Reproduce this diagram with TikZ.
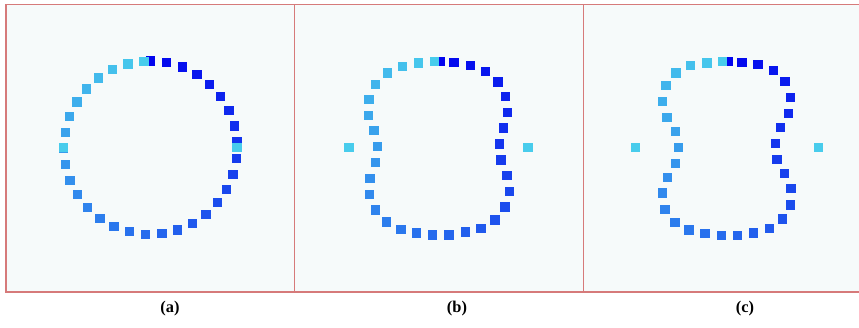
\documentclass[tikz,border=0pt]{standalone}
\usepackage{fontspec}
\setmainfont{Liberation Serif}
\usepackage{tikz}
\usetikzlibrary{positioning}
\definecolor{frameline}{RGB}{214,122,122}
\definecolor{panelbg}{RGB}{246,250,250}
\definecolor{ptstart}{RGB}{2,4,238}
\definecolor{ptend}{RGB}{72,204,236}

\begin{document}
\begin{tikzpicture}[x=0.3mm,y=-0.3mm,
    pt/.style={rectangle,inner sep=0pt,minimum size=2.8mm,draw=none},
    panel/.style={draw=frameline,line width=0.35mm,fill=panelbg},
    sublabel/.style={font=\fontsize{14}{16}\selectfont\bfseries}]
  \clip (0,0) rectangle (859,327);
  \fill[white] (0,0) rectangle (859,327);
  \draw[panel] (6,4.5) rectangle (294.7,292);
  \draw[panel] (294.7,4.5) rectangle (583.3,292);
  \draw[panel] (583.3,4.5) rectangle (880,292);
  % (a) circle
  \begin{scope}[shift={(150.5,147.7)}]
    \foreach \k in {0,...,33} {
      \pgfmathsetmacro\p{100*\k/33}
      \node[pt,fill=ptend!\p!ptstart] (a-\k) at ({-90+10.78*\k}:86.7) {};
    }
    \node[pt,fill=ptend] (a-l) at (-86.7,0) {};
    \node[pt,fill=ptend] (a-r) at (86.5,0) {};
  \end{scope}
  % (b) pinched
  \begin{scope}[shift={(438.5,147.7)}]
    \foreach \x/\y [count=\k from 0] in {2.2/-86,15.5/-85,31.8/-82,47.2/-76.3,59.5/-65.7,
        67.2/-51.3,68.8/-35.3,65.2/-19.7,60.8/-3.7,62.5/12.3,68.5/27.7,70.8/43.7,
        66.5/59.3,56.5/72.3,42.5/80.7,26.8/84.3,10.5/87.3,-5.8/87.3,-21.8/85.3,
        -37.5/81.7,-52.2/74.3,-63.2/62.3,-68.8/46.7,-68.5/30.7,-63.2/15,-60.8/-1,
        -64.5/-17,-69.8/-32.3,-69.5/-48.3,-62.8/-63.3,-51.2/-74.7,-36.2/-81.3,
        -20.2/-84.7,-4.2/-86} {
      \pgfmathsetmacro\p{100*\k/33}
      \node[pt,fill=ptend!\p!ptstart] (b-\k) at (\x,\y) {};
    }
    \node[pt,fill=ptend] (b-l) at (-89.5,0) {};
    \node[pt,fill=ptend] (b-r) at (89.5,0) {};
  \end{scope}
  % (c) pinched more
  \begin{scope}[shift={(726.8,147.7)}]
    \foreach \x/\y [count=\k from 0] in {1.5/-86,15.2/-85.3,31.2/-83.3,46.5/-77,58.2/-66,
        63.5/-50.3,61.5/-34.3,53.8/-20,48.8/-4.3,50.2/11.7,57.5/26,64.2/41,
        63.5/57.3,55.8/71.3,42.5/81,26.8/85.3,10.8/88,-5.5/88,-21.8/86,
        -37.8/82.3,-51.8/74.7,-61.8/61.7,-64.2/45.3,-59.2/29.7,-51.2/15.7,-48.2/-0.3,
        -51.5/-16.3,-59.8/-30.3,-64.2/-46,-60.8/-62,-50.8/-74.7,-36.2/-82,
        -19.8/-84.7,-4.2/-86} {
      \pgfmathsetmacro\p{100*\k/33}
      \node[pt,fill=ptend!\p!ptstart] (c-\k) at (\x,\y) {};
    }
    \node[pt,fill=ptend] (c-l) at (-91.5,0) {};
    \node[pt,fill=ptend] (c-r) at (91.5,0) {};
  \end{scope}
  \node[sublabel] (la) at (170,309) {(a)};
  \node[sublabel] (lb) at (457,309) {(b)};
  \node[sublabel] (lc) at (745,309) {(c)};
\end{tikzpicture}
\end{document}
